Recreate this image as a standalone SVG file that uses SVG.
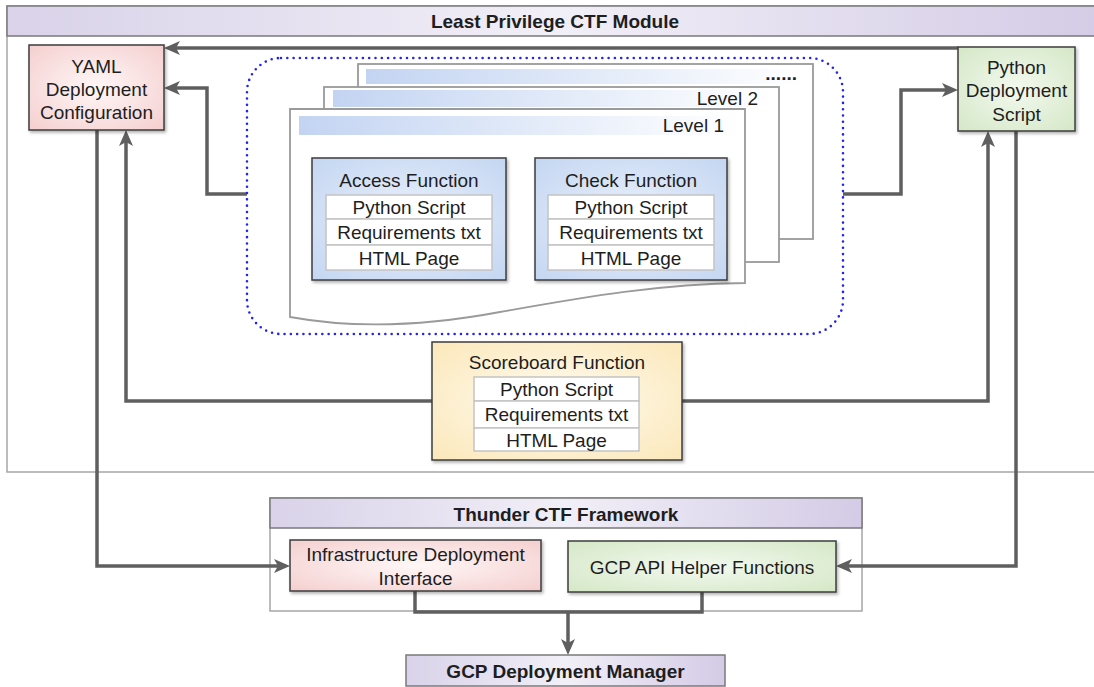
<svg xmlns="http://www.w3.org/2000/svg" width="1094" height="687" viewBox="0 0 1094 687">
  <defs>
    <style>
      text { font-family: "Liberation Sans", Arial, sans-serif; font-size: 19px; fill: #1e1e1e; text-anchor: middle; }
      .bold { font-weight: bold; }
      .right { text-anchor: end; }
      .frame { fill: #ffffff; stroke: #a6a6a6; stroke-width: 1.5; }
      .header { stroke: #7a7a7a; stroke-width: 1.5; }
      .box { stroke: #3c3c3c; stroke-width: 1.5; filter: url(#shadow); }
      .row { fill: #ffffff; stroke: #c4c4c4; stroke-width: 1.5; }
      .page { fill: #ffffff; stroke: #9a9a9a; stroke-width: 1.8; }
      .bar { fill: url(#barFill); }
      .link { fill: none; stroke: #5f5f5f; stroke-width: 3.5; stroke-linejoin: miter; }
      .arrow { marker-end: url(#head); }
      .group-outline { fill: none; stroke: #2424f0; stroke-width: 2.6; stroke-dasharray: 0 6.3; stroke-linecap: round; }
    </style>
    <linearGradient id="headerFill" x1="0" y1="0" x2="1" y2="0">
      <stop offset="0" stop-color="#d9d2e9"/>
      <stop offset="0.5" stop-color="#f1eff7"/>
      <stop offset="1" stop-color="#d4cbe6"/>
    </linearGradient>
    <linearGradient id="barFill" x1="0" y1="0" x2="1" y2="0">
      <stop offset="0" stop-color="#c3d4f2"/>
      <stop offset="1" stop-color="#ffffff"/>
    </linearGradient>
    <radialGradient id="pinkFill" cx="0.5" cy="0.5" r="0.75">
      <stop offset="0" stop-color="#fff7f7"/>
      <stop offset="1" stop-color="#f4cccc"/>
    </radialGradient>
    <radialGradient id="greenFill" cx="0.5" cy="0.5" r="0.75">
      <stop offset="0" stop-color="#f3f9ef"/>
      <stop offset="1" stop-color="#d2e6c4"/>
    </radialGradient>
    <radialGradient id="blueFill" cx="0.5" cy="0.5" r="0.75">
      <stop offset="0" stop-color="#eaf1fb"/>
      <stop offset="1" stop-color="#c1d4f1"/>
    </radialGradient>
    <radialGradient id="yellowFill" cx="0.5" cy="0.5" r="0.75">
      <stop offset="0" stop-color="#fffcf1"/>
      <stop offset="1" stop-color="#fbe6b6"/>
    </radialGradient>
    <filter id="shadow" x="-10%" y="-10%" width="125%" height="130%">
      <feDropShadow dx="1.5" dy="2" stdDeviation="1.5" flood-color="#000000" flood-opacity="0.3"/>
    </filter>
    <marker id="head" viewBox="0 0 16 14" refX="4" refY="7" markerWidth="16" markerHeight="14" markerUnits="userSpaceOnUse" orient="auto">
      <path d="M0,0 L16,7 L0,14 L4,7 Z" fill="#5f5f5f"/>
    </marker>
  </defs>

  <!-- Least Privilege CTF Module container -->
  <g id="module">
    <rect class="frame" x="7" y="6" width="1100" height="466"/>
    <rect class="header" x="7" y="6" width="1100" height="30" fill="url(#headerFill)"/>
    <text class="bold" x="555" y="28">Least Privilege CTF Module</text>
  </g>

  <!-- Thunder CTF Framework container -->
  <g id="framework">
    <rect class="frame" x="270" y="498" width="592" height="113"/>
    <rect class="header" x="270" y="498" width="592" height="30" fill="url(#headerFill)"/>
    <text class="bold" x="566" y="521">Thunder CTF Framework</text>
  </g>

  <!-- Connectors -->
  <g id="connectors">
    <path class="link arrow" d="M958,48 H176"/>
    <path class="link arrow" d="M247,194 H207 V88 H176"/>
    <path class="link arrow" d="M843,194 H901 V90 H946"/>
    <path class="link arrow" d="M97,130 V566 H278"/>
    <path class="link arrow" d="M432,401 H126 V142"/>
    <path class="link arrow" d="M682,401 H988 V143"/>
    <path class="link arrow" d="M1016,131 V566 H848"/>
    <path class="link" d="M415,591 V612 H702 V592"/>
    <path class="link arrow" d="M568,612 V643"/>
  </g>

  <!-- YAML Deployment Configuration -->
  <g id="yaml-config">
    <rect class="box" x="29" y="45" width="135" height="85" fill="url(#pinkFill)"/>
    <text x="96.5" y="73">YAML</text>
    <text x="96.5" y="96">Deployment</text>
    <text x="96.5" y="119">Configuration</text>
  </g>

  <!-- Python Deployment Script -->
  <g id="python-script">
    <rect class="box" x="958" y="47" width="117" height="84" fill="url(#greenFill)"/>
    <text x="1016.5" y="74">Python</text>
    <text x="1016.5" y="97">Deployment</text>
    <text x="1016.5" y="121">Script</text>
  </g>

  <!-- Levels group (dotted outline) -->
  <g id="levels">
    <rect class="group-outline" x="247" y="58" width="596" height="276" rx="34" ry="34"/>

    <g id="level-more">
      <rect class="page" x="358" y="64" width="455" height="175"/>
      <rect class="bar" x="366" y="69" width="440" height="15"/>
      <text class="right bold" x="797" y="80">......</text>
    </g>

    <g id="level-2">
      <rect class="page" x="324" y="87" width="455" height="175"/>
      <rect class="bar" x="333" y="90" width="438" height="17"/>
      <text class="right" x="758" y="105">Level 2</text>
    </g>

    <g id="level-1">
      <path class="page" d="M290,109 H745 V283 C660,284 590,296 500,312 C420,327 350,328 290,317 Z"/>
      <rect class="bar" x="299" y="116" width="440" height="19"/>
      <text class="right" x="724" y="132">Level 1</text>

      <g id="access-function">
        <rect class="box" x="312" y="158" width="194" height="122" fill="url(#blueFill)"/>
        <text x="409" y="187">Access Function</text>
        <rect class="row" x="326" y="195" width="166" height="24"/>
        <rect class="row" x="326" y="219" width="166" height="26"/>
        <rect class="row" x="326" y="245" width="166" height="25"/>
        <text x="409" y="214">Python Script</text>
        <text x="409" y="239">Requirements txt</text>
        <text x="409" y="265">HTML Page</text>
      </g>

      <g id="check-function">
        <rect class="box" x="535" y="158" width="192" height="122" fill="url(#blueFill)"/>
        <text x="631" y="187">Check Function</text>
        <rect class="row" x="548" y="195" width="166" height="24"/>
        <rect class="row" x="548" y="219" width="166" height="26"/>
        <rect class="row" x="548" y="245" width="166" height="25"/>
        <text x="631" y="214">Python Script</text>
        <text x="631" y="239">Requirements txt</text>
        <text x="631" y="265">HTML Page</text>
      </g>
    </g>
  </g>

  <!-- Scoreboard Function -->
  <g id="scoreboard-function">
    <rect class="box" x="432" y="342" width="250" height="118" fill="url(#yellowFill)"/>
    <text x="557" y="369">Scoreboard Function</text>
    <rect class="row" x="474" y="377" width="165" height="24"/>
    <rect class="row" x="474" y="401" width="165" height="27"/>
    <rect class="row" x="474" y="428" width="165" height="23"/>
    <text x="556.5" y="396">Python Script</text>
    <text x="556.5" y="421">Requirements txt</text>
    <text x="556.5" y="447">HTML Page</text>
  </g>

  <!-- Infrastructure Deployment Interface -->
  <g id="infra-interface">
    <rect class="box" x="290" y="540" width="251" height="51" fill="url(#pinkFill)"/>
    <text x="415.5" y="561">Infrastructure Deployment</text>
    <text x="415.5" y="585">Interface</text>
  </g>

  <!-- GCP API Helper Functions -->
  <g id="gcp-helpers">
    <rect class="box" x="568" y="541" width="268" height="51" fill="url(#greenFill)"/>
    <text x="702" y="574">GCP API Helper Functions</text>
  </g>

  <!-- GCP Deployment Manager -->
  <g id="deployment-manager">
    <rect class="header" x="406" y="655" width="319" height="31" fill="url(#headerFill)"/>
    <text class="bold" x="565.5" y="678">GCP Deployment Manager</text>
  </g>
</svg>
